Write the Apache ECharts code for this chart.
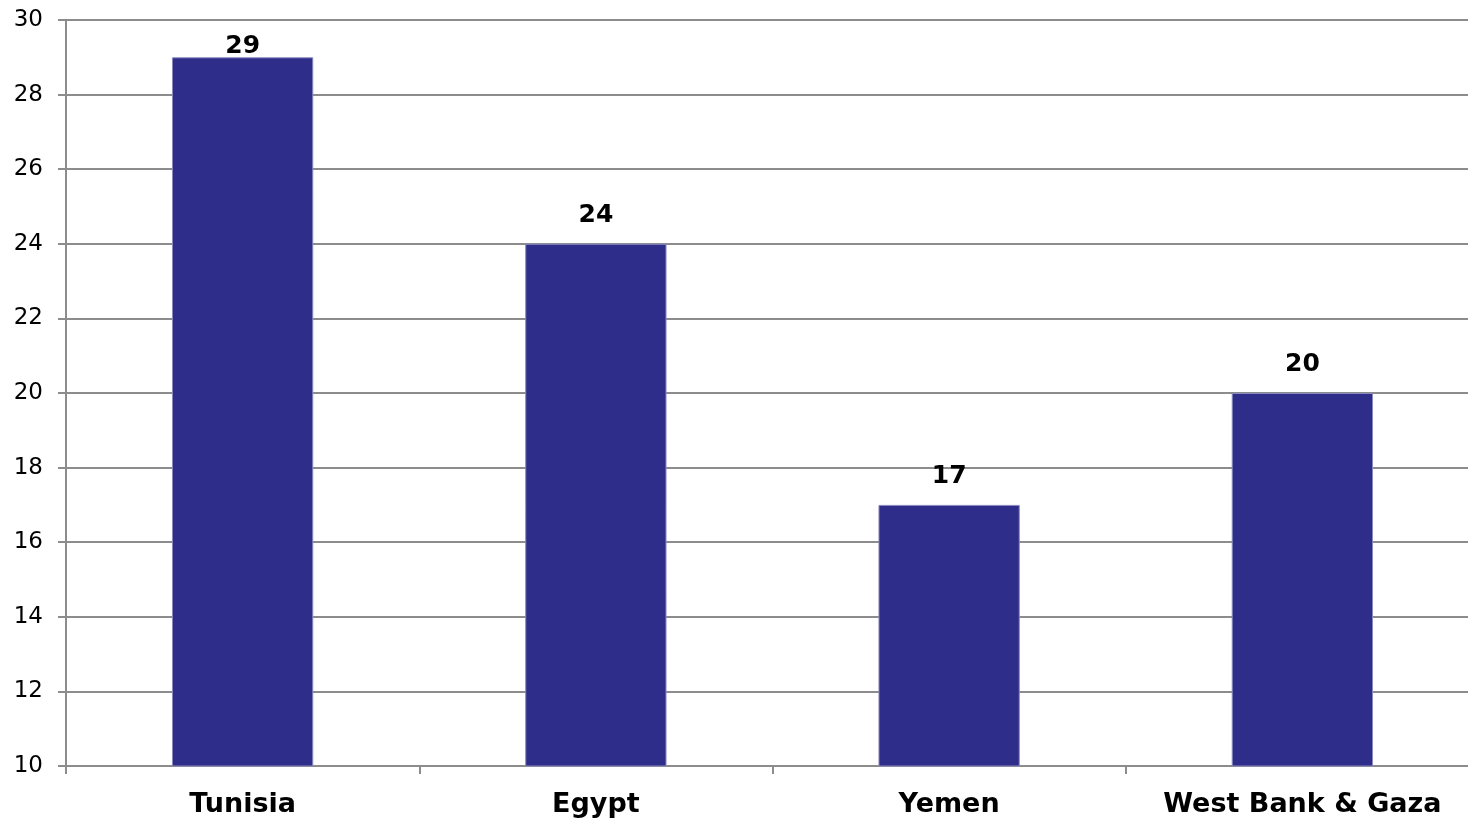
<!DOCTYPE html>
<html><head><meta charset="utf-8">
<script src="https://cdn.jsdelivr.net/npm/echarts@6/dist/echarts.min.js"></script>
<style>html,body{margin:0;padding:0;background:#fff;overflow:hidden;width:1468px;height:825px}#c{width:1479px;height:825px}</style>
</head><body><div id="c"></div>
<script>
const categories = ["Tunisia", "Egypt", "Yemen", "West Bank & Gaza"];
const values = [29, 24, 17, 20];
const yMin = 10, yMax = 30, yStep = 2;

const FONT = '"DejaVu Sans", "Liberation Sans", Arial, sans-serif';
// labels that would leave the plot area are pulled down to stay inside it
const barData = values.map(v => ({value: v, label: {distance: (yMax - v) < 2 ? -2 : 16}}));

const chart = echarts.init(document.getElementById('c'), null, {renderer: 'canvas'});
chart.setOption({
  animation: false,
  grid: {left: 66, right: 0, top: 20, bottom: 59, containLabel: false},
  xAxis: {
    type: 'category', data: categories,
    axisLine: {lineStyle: {color: '#8c8c8c', width: 2}},
    axisTick: {show: true, alignWithLabel: false, interval: 0, length: 8, lineStyle: {color: '#8c8c8c', width: 2}},
    axisLabel: {interval: 0, color: '#000', fontFamily: FONT, fontWeight: 'bold', fontSize: 27, margin: 25}
  },
  yAxis: {
    type: 'value', min: yMin, max: yMax, interval: yStep,
    axisLine: {show: true, lineStyle: {color: '#8c8c8c', width: 2}},
    axisTick: {show: true, length: 8, lineStyle: {color: '#8c8c8c', width: 2}},
    splitLine: {lineStyle: {color: '#8c8c8c', width: 2}},
    axisLabel: {color: '#000', fontFamily: FONT, fontSize: 23, margin: 23}
  },
  series: [{
    type: 'bar', data: barData, barWidth: '40%',
    itemStyle: {color: '#2e2e8a', borderColor: '#8a8ac0', borderWidth: 1},
    label: {show: true, position: 'top', color: '#000', fontFamily: FONT, fontWeight: 'bold', fontSize: 25}
  }]
});
</script></body></html>
